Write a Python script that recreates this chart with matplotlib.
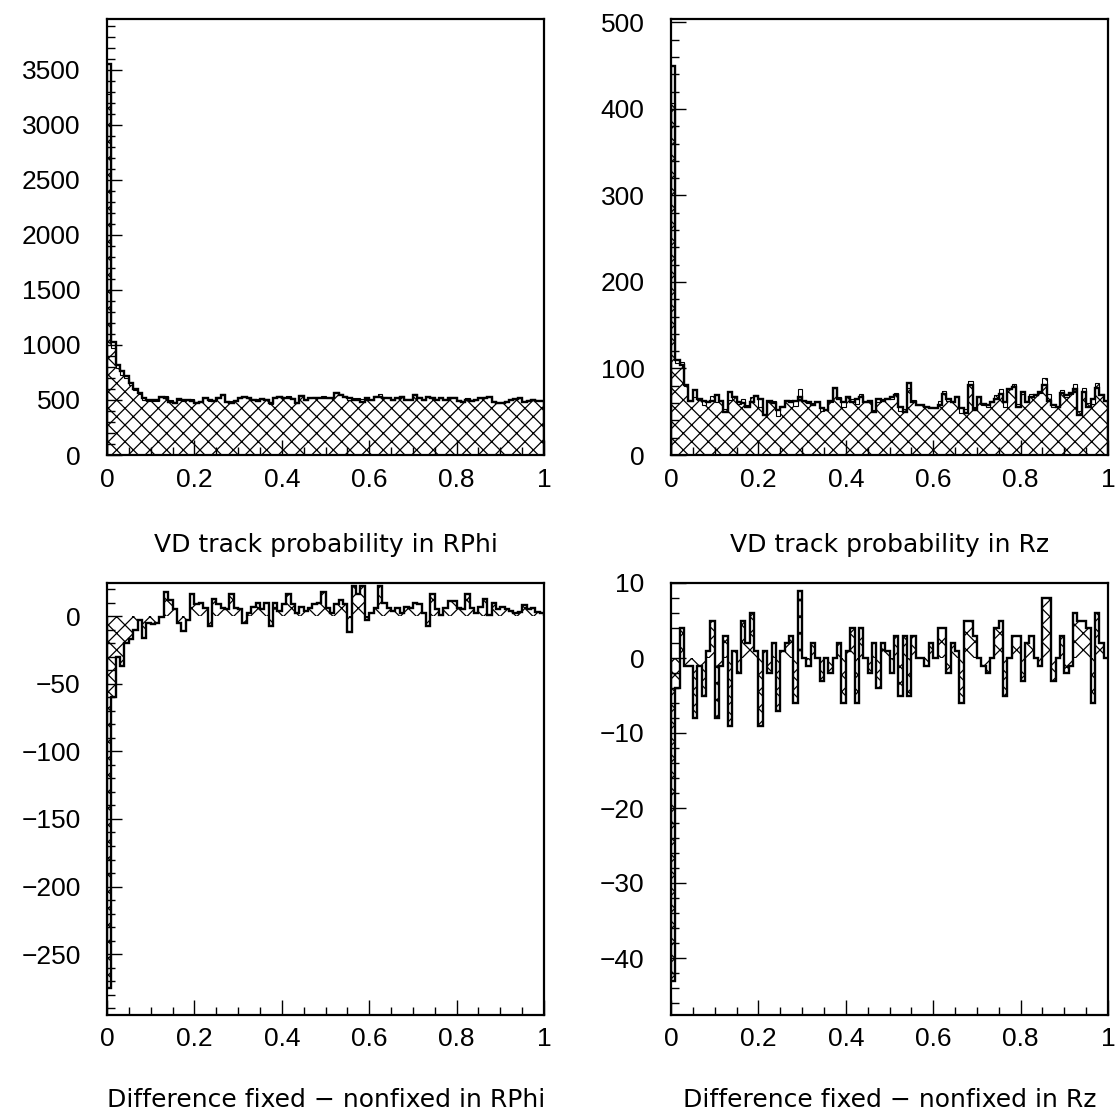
"""PAW-style 2x2 panel: VD track probabilities (fixed vs nonfixed) and their differences."""

import numpy as np
import matplotlib

matplotlib.use("Agg")
import matplotlib.pyplot as plt  # noqa: E402
from matplotlib.ticker import FuncFormatter, MultipleLocator  # noqa: E402

EDGES = np.linspace(0.0, 1.0, 101)

# nonfixed histograms (outline), read per bin (100 bins on [0, 1])
rphi_nonfixed = [
    3555, 1030, 820, 760, 720, 650, 600, 560, 520, 500,
    500, 500, 530, 520, 485, 470, 505, 500, 500, 495,
    470, 485, 515, 500, 490, 515, 545, 485, 470, 495,
    515, 530, 515, 500, 495, 505, 500, 470, 515, 530,
    515, 520, 505, 470, 540, 500, 515, 520, 520, 515,
    515, 515, 560, 545, 530, 515, 500, 500, 485, 515,
    500, 530, 530, 515, 515, 500, 515, 530, 500, 500,
    545, 515, 500, 530, 515, 500, 515, 500, 515, 515,
    495, 485, 500, 495, 500, 515, 515, 530, 485, 470,
    475, 485, 500, 505, 515, 485, 495, 500, 495, 495,
]
rz_nonfixed = [
    450, 110, 104, 81, 63, 75, 65, 63, 61, 63,
    69, 63, 50, 73, 67, 61, 60, 56, 61, 68,
    65, 46, 63, 60, 52, 56, 62, 61, 63, 67,
    63, 61, 58, 61, 54, 52, 63, 77, 65, 61,
    67, 61, 65, 67, 61, 63, 50, 65, 63, 65,
    67, 69, 56, 50, 83, 61, 58, 58, 56, 54,
    54, 58, 70, 65, 61, 67, 54, 48, 81, 52,
    67, 59, 58, 61, 65, 71, 61, 76, 79, 56,
    73, 61, 67, 69, 73, 81, 63, 58, 56, 72,
    69, 72, 76, 46, 73, 56, 65, 77, 69, 63,
]

# difference fixed - nonfixed, read per bin
rphi_diff = [
    -275, -60, -30, -37, -20, -17, -10, -3, -16, -5,
    -6, -5, -1, 18, 12, 5, -5, -11, -3, 16,
    9, 10, 6, -7, 13, 9, 6, 5, 16, 6,
    5, -5, 2, 7, 10, 5, 10, -7, 10, 4,
    9, 16, 9, 2, 7, 4, 6, 9, 10, 18,
    6, 2, 9, 12, 9, -12, 22, 16, 22, -3,
    2, 6, 22, 10, 6, 4, 6, 2, 7, 6,
    10, 9, 2, -7, 16, 5, 1, 6, 11, 11,
    6, 5, 16, 6, 2, 7, 13, 1, 10, 5,
    7, 5, 4, 2, 3, 8, 5, 6, 3, 2,
]
rz_diff = [
    -43, -4, 4, -1, -1, -8, -1, -5, 1, 5,
    -8, -1, 3, -9, 1, -2, 5, 2, 6, 1,
    -9, 1, -2, 2, -7, 1, 2, 3, -6, 9,
    0, -1, 2, 0, -3, 0, -2, 0, 2, -6,
    1, 4, -6, 4, 0, -2, 2, -4, 2, 1,
    -2, 3, -5, 3, -5, 3, 0, 0, -1, 2,
    0, 4, 4, -2, 2, 1, -6, 5, 5, 3,
    0, -1, -2, 0, 4, 5, -5, 0, 3, 3,
    -3, 2, 3, 0, -1, 8, 8, -3, 0, 3,
    -2, -1, 6, 5, 5, 4, -6, 6, 2, 0,
]

# the hatched "fixed" histogram is nonfixed + difference
rphi_fixed = np.array(rphi_nonfixed) + np.array(rphi_diff)
rz_fixed = np.array(rz_nonfixed) + np.array(rz_diff)

FONT = ["Liberation Sans", "DejaVu Sans"]
plt.rcParams["font.family"] = FONT
plt.rcParams["hatch.color"] = "black"
plt.rcParams["hatch.linewidth"] = 0.9
plt.rcParams["axes.unicode_minus"] = True

W, H = 1115, 1118
fig = plt.figure(figsize=(W / 100, H / 100), dpi=100)


def _axes(x0, y0, x1, y1):
    """Axes from pixel box (left, top, right, bottom)."""
    return fig.add_axes([x0 / W, 1 - y1 / H, (x1 - x0) / W, (y1 - y0) / H])


def _style(ax, ylim, ymaj, ymin):
    ax.set_xlim(0, 1)
    ax.set_ylim(*ylim)
    ax.xaxis.set_major_locator(MultipleLocator(0.2))
    ax.xaxis.set_minor_locator(MultipleLocator(0.05))
    ax.yaxis.set_major_locator(MultipleLocator(ymaj))
    ax.yaxis.set_minor_locator(MultipleLocator(ymin))
    ax.xaxis.set_major_formatter(FuncFormatter(lambda v, _: f"{v:g}"))
    ax.tick_params(which="both", direction="in", top=False, right=False,
                   labelsize=19, width=1.0)
    ax.tick_params(which="major", length=11)
    ax.tick_params(which="minor", length=6)
    ax.tick_params(axis="x", pad=9)
    ax.tick_params(axis="y", pad=19)
    for sp in ax.spines.values():
        sp.set_linewidth(1.6)


def _overlay(ax, fixed, nonfixed):
    ax.stairs(fixed, EDGES, fill=True, facecolor="white", edgecolor="black",
              hatch="xx", linewidth=0)
    ax.stairs(fixed, EDGES, color="black", linewidth=0.8)
    ax.stairs(nonfixed, EDGES, color="black", linewidth=1.7)


def _diff(ax, diff):
    ax.stairs(diff, EDGES, baseline=0, fill=True, facecolor="white",
              edgecolor="black", hatch="xx", linewidth=0)
    ax.stairs(diff, EDGES, baseline=0, color="black", linewidth=1.7)


ax_tl = _axes(107, 19, 544, 455)
_overlay(ax_tl, rphi_fixed, rphi_nonfixed)
_style(ax_tl, (0, 3960), 500, 100)

ax_tr = _axes(671, 19, 1108, 455)
_overlay(ax_tr, rz_fixed, rz_nonfixed)
_style(ax_tr, (0, 504), 100, 20)

ax_bl = _axes(107, 583, 544, 1015)
_diff(ax_bl, rphi_diff)
_style(ax_bl, (-295, 24.5), 50, 10)

ax_br = _axes(671, 583, 1108, 1015)
_diff(ax_br, rz_diff)
_style(ax_br, (-47.6, 10), 10, 2)

titles = [
    (326, 545, "VD track probability in RPhi"),
    (890, 545, "VD track probability in Rz"),
    (326, 1100, "Difference fixed \u2212 nonfixed in RPhi"),
    (890, 1100, "Difference fixed \u2212 nonfixed in Rz"),
]
for x, y, s in titles:
    fig.text(x / W, 1 - y / H, s, ha="center", va="center", fontsize=18,
             family=["DejaVu Sans"])

fig.savefig("out.png", dpi=100)
